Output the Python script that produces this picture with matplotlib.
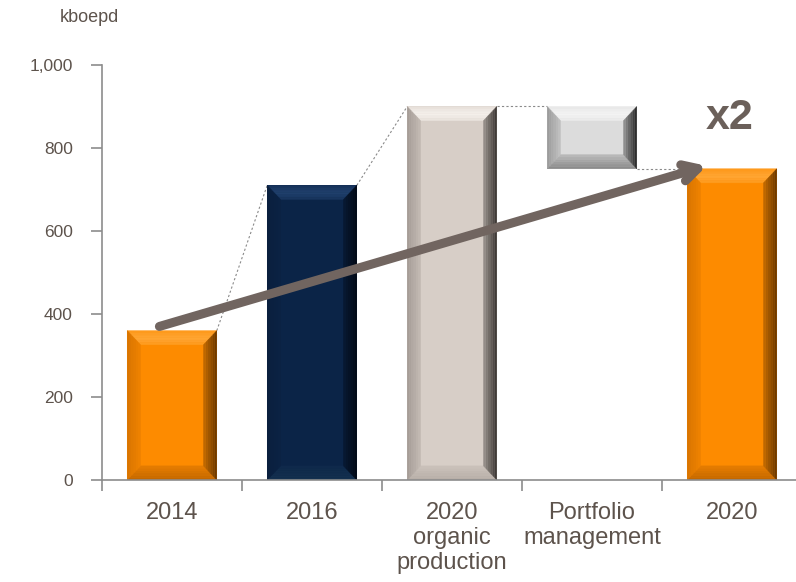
import numpy as np
import matplotlib
matplotlib.use("Agg")
import matplotlib.pyplot as plt
from matplotlib.patches import Polygon

plt.rcParams['font.family'] = ['Liberation Sans', 'DejaVu Sans']

categories = ['2014', '2016', '2020\norganic\nproduction', 'Portfolio\nmanagement', '2020']
bar_bottom = [0, 0, 0, 750, 0]
bar_top = [360, 710, 900, 900, 750]
# face, top, left, right, bottom bevel colours
styles = [
    ('#fd8b00', '#ffa634', '#d97500', '#6e3a00', '#c46800'),
    ('#0b2447', '#20406d', '#0a1f3e', '#020915', '#14304f'),
    ('#d7cec7', '#f6f1ec', '#a69d97', '#403b38', '#b8afa8'),
    ('#dcdcdc', '#f4f4f4', '#9c9c9c', '#2e2e2e', '#8c8c8c'),
    ('#fd8b00', '#ffa634', '#d97500', '#6e3a00', '#c46800'),
]
txt = '#5d534c'
axis_col = '#8c8c8c'

fig = plt.figure(figsize=(7.96, 5.82), dpi=100)
ax = fig.add_axes([102/796, 102/582, 700/796, 415/582])
ax.set_xlim(-0.5, 4.5)
ax.set_ylim(0, 1000)

w = 0.64
bx = 0.095   # bevel width in x (data)
by = 34      # bevel height in y (data)

def shade(c1, c2, t):
    a = np.array(matplotlib.colors.to_rgb(c1))
    b = np.array(matplotlib.colors.to_rgb(c2))
    return np.clip(a + (b - a) * t, 0, 1)

for i, (b0, b1) in enumerate(zip(bar_bottom, bar_top)):
    face, top, left, right, bot = styles[i]
    x0, x1 = i - w/2, i + w/2
    ax.bar(i, b1 - b0, bottom=b0, width=w, color=face, zorder=2)
    n = 6
    for k in range(n):
        t0, t1 = k/n, (k+1)/n
        f = 0.55 * (k / (n - 1))
        polys = {
            'top': ([(x0+bx*t0, b1-by*t0), (x1-bx*t0, b1-by*t0), (x1-bx*t1, b1-by*t1), (x0+bx*t1, b1-by*t1)], top),
            'bot': ([(x0+bx*t0, b0+by*t0), (x1-bx*t0, b0+by*t0), (x1-bx*t1, b0+by*t1), (x0+bx*t1, b0+by*t1)], bot),
            'left': ([(x0+bx*t0, b0+by*t0), (x0+bx*t0, b1-by*t0), (x0+bx*t1, b1-by*t1), (x0+bx*t1, b0+by*t1)], left),
            'right': ([(x1-bx*t0, b0+by*t0), (x1-bx*t0, b1-by*t0), (x1-bx*t1, b1-by*t1), (x1-bx*t1, b0+by*t1)], right),
        }
        for name, (pts, col) in polys.items():
            if name == 'top':
                c = shade(col, face, abs(k - n*0.45) / n)
            else:
                c = shade(col, face, f)
            ax.add_patch(Polygon(pts, closed=True, facecolor=c, edgecolor=c, lw=0.3, zorder=3))

# dotted connectors
dot = dict(color='#8a8a8a', lw=0.8, ls=(0, (2, 2)), zorder=1)
ax.plot([0 + w/2, 1 - w/2], [bar_top[0], bar_top[1]], **dot)
ax.plot([1 + w/2, 2 - w/2], [bar_top[1], bar_top[2]], **dot)
ax.plot([2 + w/2, 3 - w/2], [bar_top[2], bar_top[3]], **dot)
ax.plot([3 + w/2, 4 - w/2], [bar_bottom[3], bar_top[4]], **dot)

# growth arrow
arrow_start = (-0.09, 370)
arrow_end = (3.82, 757)
ax.annotate('', xy=arrow_end, xytext=arrow_start,
            arrowprops=dict(arrowstyle='->,head_length=1.1,head_width=0.6', color='#716560',
                            lw=6.5, shrinkA=0, shrinkB=0), zorder=6)
ax.text(3.98, 873, 'x2', fontsize=31, fontweight='bold', color='#6b605a', ha='center', va='center', zorder=6)

for s in ['top', 'right']:
    ax.spines[s].set_visible(False)
for s in ['left', 'bottom']:
    ax.spines[s].set_color(axis_col)
    ax.spines[s].set_linewidth(1.2)
ax.spines['bottom'].set_zorder(4)

ax.set_yticks(np.arange(0, 1001, 200))
ax.set_yticklabels(['0', '200', '400', '600', '800', '1,000'])
ax.tick_params(axis='y', direction='out', length=8, color=axis_col, width=1.2, labelsize=12.5, labelcolor=txt, pad=13)
ax.set_xticks(range(len(categories)))
ax.set_xticklabels(categories, fontsize=17, color=txt, linespacing=1.17)
ax.tick_params(axis='x', which='major', length=0, pad=16)
ax.set_xticks(np.arange(-0.5, 4.6, 1), minor=True)
ax.tick_params(axis='x', which='minor', direction='out', length=8, color=axis_col, width=1.2)

fig.text(60/796, 1 - 18/582, 'kboepd', fontsize=13, color=txt, ha='left', va='center')

fig.savefig('out.png', dpi=100)
